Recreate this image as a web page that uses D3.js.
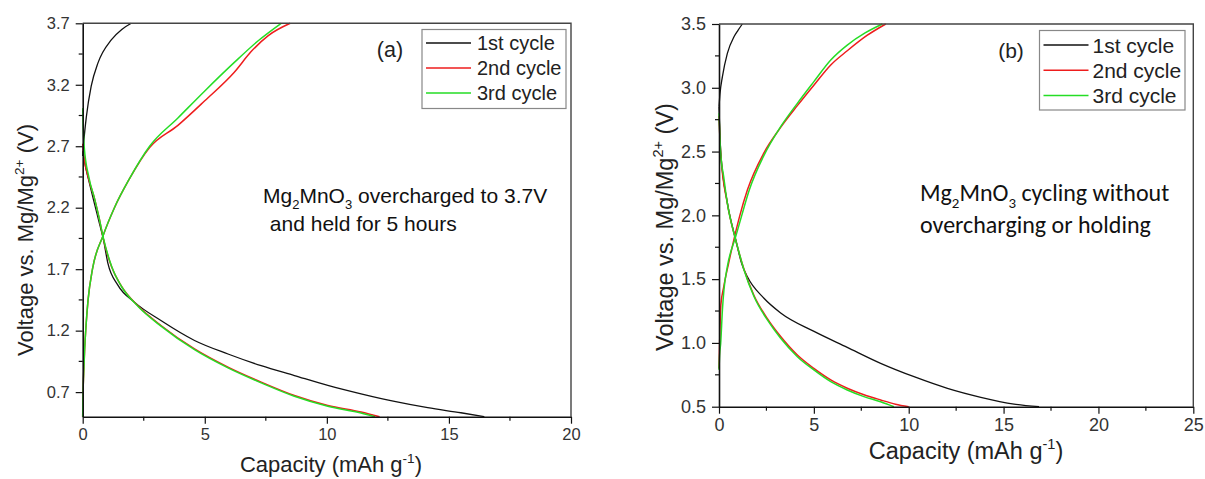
<!DOCTYPE html>
<html>
<head>
<meta charset="utf-8">
<script src="https://cdn.jsdelivr.net/npm/d3@7"></script>
<style>
  html, body { margin: 0; padding: 0; background: #fff; }
  svg { display: block; }
</style>
</head>
<body>
<div id="chart"></div>
<script>
(function () {
  // ---- data: [capacity (mAh/g), voltage (V)] ----
  const seriesNames = ["1st cycle", "2nd cycle", "3rd cycle"];
  const seriesColors = ["#111111", "#ee1d1d", "#25dd25"];

  // panel (a): overcharged to 3.7 V and held for 5 hours
  const a1Charge = [[0, 2.62], [0.05, 2.75], [0.15, 2.94], [0.35, 3.19], [0.63, 3.38], [1.17, 3.565], [1.6, 3.65], [1.99, 3.7]];
  const a1Discharge = [[0, 2.66], [0.1, 2.55], [0.3, 2.38], [0.5, 2.22], [0.7, 2.06], [0.83, 1.96], [1.03, 1.75], [1.44, 1.57], [2.13, 1.43], [3.22, 1.28], [4.58, 1.12], [5.95, 1.01], [7.31, 0.915], [8.67, 0.835], [10.04, 0.755], [11.4, 0.686], [12.77, 0.624], [14.13, 0.573], [15.49, 0.532], [16.45, 0.5]];
  const a2Charge = [[0, 0.5], [0.01, 0.65], [0.04, 0.85], [0.08, 1.05], [0.14, 1.25], [0.22, 1.45], [0.4, 1.7], [0.83, 1.97], [1.3, 2.2], [1.9, 2.43], [2.74, 2.69], [3.9, 2.87], [5.0, 3.07], [6.2, 3.3], [6.9, 3.47], [7.6, 3.6], [8.5, 3.7]];
  const a2Discharge = [[0, 2.72], [0.05, 2.62], [0.25, 2.43], [0.49, 2.27], [0.69, 2.1], [0.83, 1.96], [1.17, 1.726], [1.58, 1.564], [2.26, 1.402], [3.22, 1.24], [4.58, 1.051], [5.95, 0.903], [7.31, 0.781], [8.67, 0.672], [10.04, 0.591], [11.4, 0.538], [12.16, 0.5]];
  const a3Charge = [[0, 0.5], [0.01, 0.65], [0.04, 0.85], [0.08, 1.05], [0.14, 1.25], [0.22, 1.45], [0.4, 1.7], [0.83, 1.97], [1.3, 2.2], [1.9, 2.43], [2.74, 2.7], [3.9, 2.93], [5.0, 3.15], [6.2, 3.38], [7.2, 3.56], [8.13, 3.7]];
  const a3Discharge = [[0, 3.01], [0.02, 2.85], [0.06, 2.7], [0.25, 2.45], [0.49, 2.27], [0.69, 2.1], [0.85, 1.95], [1.19, 1.72], [1.6, 1.555], [2.28, 1.395], [3.22, 1.235], [4.58, 1.045], [5.95, 0.897], [7.31, 0.775], [8.67, 0.666], [10.04, 0.585], [11.4, 0.53], [11.97, 0.5]];

  // panel (b): cycling without overcharging or holding
  const b1Charge = [[0, 2.85], [0.05, 2.95], [0.18, 3.087], [0.44, 3.27], [0.79, 3.4], [1.0, 3.45], [1.23, 3.5]];
  const b1Discharge = [[0, 2.85], [0.09, 2.5], [0.44, 2.1], [0.88, 1.81], [1.2, 1.62], [1.49, 1.52], [2.37, 1.35], [3.25, 1.235], [5.01, 1.09], [6.76, 0.965], [8.52, 0.84], [10.28, 0.735], [12.04, 0.644], [13.8, 0.574], [15.55, 0.521], [16.87, 0.5]];
  const b2Charge = [[0, 0.8], [0.05, 1.1], [0.1, 1.3], [0.25, 1.44], [0.5, 1.62], [0.8, 1.82], [1.1, 2.0], [1.5, 2.2], [2.37, 2.49], [3.25, 2.69], [4.13, 2.86], [5.0, 3.02], [5.89, 3.179], [6.76, 3.29], [7.8, 3.41], [8.79, 3.5]];
  const b2Discharge = [[0, 2.78], [0.09, 2.486], [0.44, 2.094], [0.88, 1.807], [1.32, 1.575], [1.85, 1.37], [2.55, 1.19], [3.25, 1.05], [4.13, 0.905], [5.0, 0.8], [5.89, 0.71], [6.76, 0.645], [7.64, 0.594], [8.52, 0.553], [9.3, 0.52], [10.0, 0.5]];
  const b3Charge = [[0, 0.79], [0.03, 0.9], [0.09, 1.0], [0.18, 1.258], [0.26, 1.415], [0.44, 1.598], [0.88, 1.833], [1.2, 2.0], [1.6, 2.2], [2.37, 2.47], [3.25, 2.695], [4.13, 2.878], [5.0, 3.048], [5.89, 3.218], [6.76, 3.335], [7.7, 3.43], [8.61, 3.5]];
  const b3Discharge = [[0, 2.8], [0.09, 2.486], [0.25, 2.3], [0.44, 2.094], [0.62, 1.96], [0.88, 1.807], [1.32, 1.572], [1.85, 1.362], [2.55, 1.18], [3.25, 1.036], [4.13, 0.892], [5.0, 0.788], [5.89, 0.696], [6.76, 0.631], [7.64, 0.579], [8.52, 0.539], [9.22, 0.5]];

  // axis ticks
  const xTicksA = [0, 5, 10, 15, 20];
  const yTicksA = [0.7, 1.2, 1.7, 2.2, 2.7, 3.2, 3.7];
  const xTicksB = [0, 5, 10, 15, 20, 25];
  const yTicksB = [0.5, 1.0, 1.5, 2.0, 2.5, 3.0, 3.5];

  const W = 1205;
  const H = 479;

  const svg = d3
    .select("#chart")
    .append("svg")
    .attr("width", W)
    .attr("height", H)
    .attr("viewBox", `0 0 ${W} ${H}`);

  svg.append("rect").attr("width", W).attr("height", H).attr("fill", "#fff");

  const ARIAL = "Arial, 'Liberation Sans', Helvetica, sans-serif";

  function drawPanel(cfg) {
    const x = d3.scaleLinear().domain(cfg.xDomain).range([cfg.left, cfg.right]);
    const y = d3.scaleLinear().domain(cfg.yDomain).range([cfg.bottom, cfg.top]);
    const g = svg.append("g");

    // curves
    const line = d3
      .line()
      .x((d) => x(d[0]))
      .y((d) => y(d[1]))
      .curve(d3.curveMonotoneX);

    cfg.series.forEach((pair, i) => {
      pair.forEach((data) => {
        g.append("path")
          .datum(data)
          .attr("fill", "none")
          .attr("stroke", seriesColors[i])
          .attr("stroke-width", i === 0 ? 1.3 : 1.5)
          .attr("stroke-linejoin", "round")
          .attr("d", line);
      });
    });

    // frame (top and right)
    g.append("path")
      .attr("d", `M${cfg.left},${cfg.top}H${cfg.right}V${cfg.bottom}`)
      .attr("fill", "none")
      .attr("stroke", "#444")
      .attr("stroke-width", 1.4);

    // minor ticks halfway between majors
    const xMinor = d3.range(cfg.xDomain[0] + 2.5, cfg.xDomain[1], 5);
    const yStep = cfg.yTicks[1] - cfg.yTicks[0];
    const yMinor = [];
    for (let v = cfg.yTicks[0] - yStep / 2; v < cfg.yDomain[1]; v += yStep) {
      if (v > cfg.yDomain[0] + 1e-6) yMinor.push(v);
    }

    const xAxis = g
      .append("g")
      .attr("transform", `translate(0,${cfg.bottom})`)
      .call(
        d3.axisBottom(x).tickValues(cfg.xTicks).tickSize(7).tickPadding(5).tickSizeOuter(0)
      );
    xAxis
      .selectAll(".minor")
      .data(xMinor)
      .enter()
      .append("line")
      .attr("class", "minor")
      .attr("x1", (d) => x(d))
      .attr("x2", (d) => x(d))
      .attr("y2", 4)
      .attr("stroke", "#111");

    const yAxis = g
      .append("g")
      .attr("transform", `translate(${cfg.left},0)`)
      .call(
        d3
          .axisLeft(y)
          .tickValues(cfg.yTicks)
          .tickFormat(d3.format(".1f"))
          .tickSize(7)
          .tickPadding(6)
          .tickSizeOuter(0)
      );
    yAxis
      .selectAll(".minor")
      .data(yMinor)
      .enter()
      .append("line")
      .attr("class", "minor")
      .attr("y1", (d) => y(d))
      .attr("y2", (d) => y(d))
      .attr("x2", -4)
      .attr("stroke", "#111");

    [xAxis, yAxis].forEach((ax) => {
      ax.select(".domain").attr("stroke", "#111").attr("stroke-width", 1.6);
      ax.selectAll(".tick line").attr("stroke", "#111").attr("stroke-width", 1.2);
      ax.selectAll(".minor").attr("stroke-width", 1.2);
      ax.selectAll(".tick text")
        .attr("fill", "#333")
        .style("font-family", ARIAL)
        .style("font-size", `${cfg.tickFont}px`);
    });

    // axis titles
    richText(g, cfg.xTitle.x, cfg.xTitle.y, [
      ["Capacity (mAh g"],
      ["-1", "sup"],
      [")"],
    ], cfg.titleFont, ARIAL, "middle", "#222");

    const yt = g
      .append("g")
      .attr("transform", `translate(${cfg.yTitle.x},${cfg.yTitle.y}) rotate(-90)`);
    richText(yt, 0, 0, [
      ["Voltage vs. Mg/Mg"],
      ["2+", "sup"],
      [" (V)"],
    ], cfg.titleFont, ARIAL, "middle", "#222");

    // panel letter
    g.append("text")
      .attr("x", cfg.letter.x)
      .attr("y", cfg.letter.y)
      .attr("text-anchor", "middle")
      .attr("fill", "#222")
      .style("font-family", ARIAL)
      .style("font-size", `${cfg.letter.size}px`)
      .text(cfg.letter.text);

    // legend
    const lg = cfg.legend;
    g.append("rect")
      .attr("x", lg.x)
      .attr("y", lg.y)
      .attr("width", lg.w)
      .attr("height", lg.h)
      .attr("fill", "#fff")
      .attr("stroke", "#888")
      .attr("stroke-width", 1.2);
    seriesNames.forEach((name, i) => {
      const cy = lg.y + lg.first + i * lg.step;
      g.append("line")
        .attr("x1", lg.x + 4)
        .attr("x2", lg.x + 4 + lg.lineLen)
        .attr("y1", cy)
        .attr("y2", cy)
        .attr("stroke", seriesColors[i])
        .attr("stroke-width", 1.5);
      g.append("text")
        .attr("x", lg.x + 4 + lg.lineLen + lg.gap)
        .attr("y", cy)
        .attr("dy", "0.36em")
        .attr("fill", "#222")
        .style("font-family", ARIAL)
        .style("font-size", `${lg.font}px`)
        .text(name);
    });

    // annotation
    cfg.note.lines.forEach((parts, i) => {
      richText(g, cfg.note.x[i], cfg.note.y[i], parts, cfg.note.size, cfg.note.family, "start", "#111");
    });
  }

  // text with sub/superscripts
  function richText(parent, x, y, parts, size, family, anchor, color) {
    const t = parent
      .append("text")
      .attr("x", x)
      .attr("y", y)
      .attr("text-anchor", anchor)
      .attr("fill", color)
      .style("font-family", family)
      .style("font-size", `${size}px`);
    let shift = 0;
    parts.forEach(([txt, kind]) => {
      let target = 0;
      if (kind === "sup") target = -0.42 * size;
      if (kind === "sub") target = 0.28 * size;
      const s = t.append("tspan").attr("dy", target - shift).text(txt);
      if (kind) s.style("font-size", `${size * 0.62}px`);
      shift = target;
    });
    return t;
  }

  drawPanel({
    xDomain: [0, 20],
    yDomain: [0.5, 3.7],
    left: 82.7,
    right: 571,
    top: 23.3,
    bottom: 416.7,
    xTicks: xTicksA,
    yTicks: yTicksA,
    tickFont: 16.5,
    titleFont: 22,
    xTitle: { x: 331, y: 472 },
    yTitle: { x: 33, y: 240 },
    letter: { text: "(a)", x: 390, y: 57, size: 21.5 },
    legend: { x: 422, y: 29.5, w: 144, h: 79, first: 13.5, step: 25, lineLen: 45, gap: 6, font: 20 },
    series: [
      [a1Charge, a1Discharge],
      [a2Charge, a2Discharge],
      [a3Charge, a3Discharge],
    ],
    note: {
      x: [263, 264],
      y: [203, 231],
      size: 21,
      family: ARIAL,
      lines: [
        [["Mg"], ["2", "sub"], ["MnO"], ["3", "sub"], [" overcharged to 3.7V"]],
        [["\u00a0and held for 5 hours"]],
      ],
    },
  });

  drawPanel({
    xDomain: [0, 25],
    yDomain: [0.5, 3.5],
    left: 719,
    right: 1193.3,
    top: 24,
    bottom: 406.7,
    xTicks: xTicksB,
    yTicks: yTicksB,
    tickFont: 18,
    titleFont: 23.5,
    xTitle: { x: 966, y: 459 },
    yTitle: { x: 673, y: 227 },
    letter: { text: "(b)", x: 1011, y: 58, size: 21 },
    legend: { x: 1039.5, y: 30.5, w: 145.5, h: 79.5, first: 14.5, step: 25.3, lineLen: 45, gap: 4, font: 21 },
    series: [
      [b1Charge, b1Discharge],
      [b2Charge, b2Discharge],
      [b3Charge, b3Discharge],
    ],
    note: {
      x: [920, 920],
      y: [201, 233],
      size: 24,
      family: "Carlito, Calibri, Lato, sans-serif",
      lines: [
        [["Mg"], ["2", "sub"], ["MnO"], ["3", "sub"], [" cycling without"]],
        [["overcharging or holding"]],
      ],
    },
  });
})();
</script>
</body>
</html>
